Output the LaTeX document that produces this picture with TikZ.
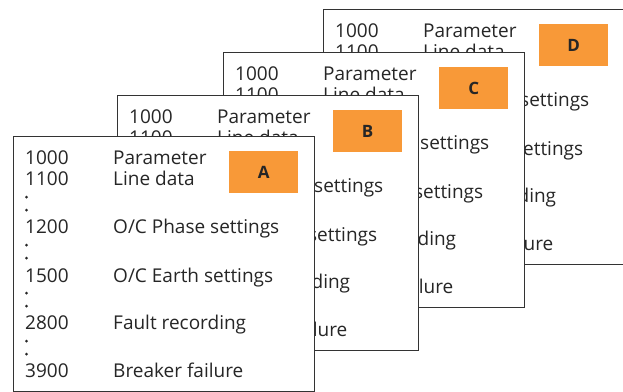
\documentclass[tikz,border=0pt]{standalone}
\usepackage{fontspec}
\setmainfont{Open Sans}
\definecolor{ink}{HTML}{262626}
\definecolor{frame}{HTML}{333333}
\definecolor{tag}{RGB}{248,153,56}
\begin{document}
\begin{tikzpicture}[x=1pt,y=-1pt,
  panel/.style={draw=frame, line width=1.4pt, fill=white, minimum width=301pt, minimum height=255pt, inner sep=0pt, anchor=north west},
  tagbox/.style={fill=tag, minimum width=69pt, minimum height=42pt, inner sep=0pt, anchor=north west, font=\fontsize{17}{17}\selectfont\bfseries, text=ink},
  entry/.style={anchor=base west, inner sep=0pt, font=\fontsize{19}{19}\selectfont, text=ink},
  dotmark/.style={circle, fill=ink, inner sep=0pt, minimum size=3pt}]
\path[use as bounding box] (0,0) rectangle (623,391);
\clip (0,0) rectangle (623,391);
\foreach \px/\py/\L in {323/9/D, 223/52/C, 117/95/B, 13/136/A} {
  \node[panel] (panel\L) at (\px,\py) {};
  \node[tagbox] (tag\L) at (\px+216,\py+15) {\L};
  \foreach \dy/\n/\t [count=\i] in {28/1000/Parameter, 49/1100/{Line data}, 97/1200/{O/C Phase settings}, 146/1500/{O/C Earth settings}, 193/2800/{Fault recording}, 241/3900/{Breaker failure}} {
    \node[entry] (num\L\i) at (\px+12,\py+\dy) {\n};
    \node[entry] (lbl\L\i) at (\px+100,\py+\dy) {\t};
  }
  \foreach \dy [count=\j] in {61,74,109,122,157,170,205,218} {
    \node[dotmark] (dot\L\j) at (\px+13.5,\py+\dy) {};
  }
}
\end{tikzpicture}
\end{document}
